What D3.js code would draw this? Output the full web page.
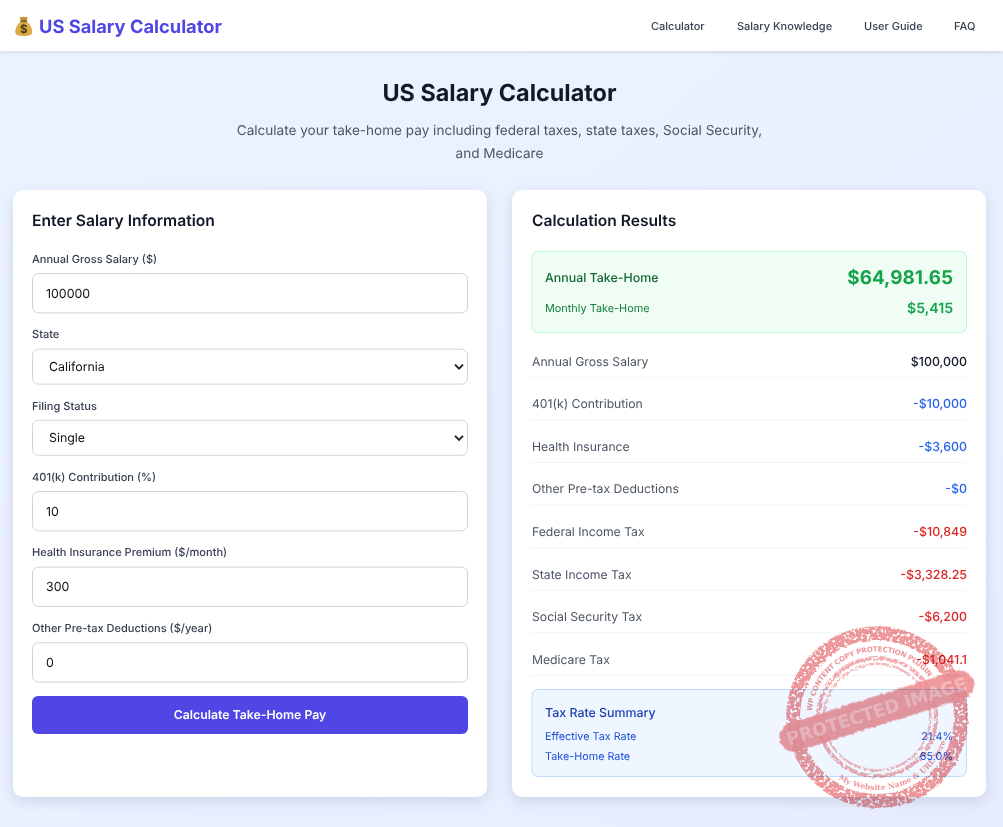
<!DOCTYPE html>
<html>
<head>
<meta charset="utf-8">
<title>US Salary Calculator</title>
<script src="https://cdn.jsdelivr.net/npm/d3@7"></script>
<style>
  html, body { margin: 0; padding: 0; overflow: hidden; }
  svg { display: block; font-family: Inter, "Noto Sans", sans-serif; text-rendering: geometricPrecision; }
  .card { filter: drop-shadow(0 4px 7px rgba(30, 41, 80, .13)); }
  .nav { filter: drop-shadow(0 1px 2px rgba(30, 41, 80, .14)); }
  .stamp { mix-blend-mode: multiply; }
</style>
</head>
<body>
<svg id="page"></svg>
<script>
var navLinks = ["Calculator", "Salary Knowledge", "User Guide", "FAQ"];
var fieldLabels = ["Annual Gross Salary ($)", "State", "Filing Status", "401(k) Contribution (%)",
  "Health Insurance Premium ($/month)", "Other Pre-tax Deductions ($/year)"];
var fieldValues = ["100000", "California", "Single", "10", "300", "0"];
var fieldKinds = ["input", "select", "select", "input", "input", "input"];
var rowLabels = ["Annual Gross Salary", "401(k) Contribution", "Health Insurance", "Other Pre-tax Deductions",
  "Federal Income Tax", "State Income Tax", "Social Security Tax", "Medicare Tax"];
var rowValues = ["$100,000", "-$10,000", "-$3,600", "-$0", "-$10,849", "-$3,328.25", "-$6,200", "-$1,041.1"];
var rowKinds = ["gross", "pretax", "pretax", "pretax", "tax", "tax", "tax", "tax"];
var rateLabels = ["Effective Tax Rate", "Take-Home Rate"];
var rateValues = ["21.4%", "65.0%"];

var W = 1003, H = 827;

renderPage();

function renderPage(){
  var svg = d3.select("#page").attr("width", W).attr("height", H);
  addDefs(svg);
  svg.append("rect").attr("width", W).attr("height", H).attr("fill", "url(#bg)");
  renderNav(svg);
  renderHeader(svg);
  renderForm(svg);
  renderResults(svg);
  renderStamp(svg);
}

function addDefs(svg){
  var defs = svg.append("defs");
  var grad = defs.append("linearGradient").attr("id", "bg")
    .attr("x1", 0).attr("y1", 0).attr("x2", 1).attr("y2", 1);
  grad.append("stop").attr("offset", 0).attr("stop-color", "#ecf3ff");
  grad.append("stop").attr("offset", 1).attr("stop-color", "#e7edfe");

  // speckled ink for the rubber stamp
  var f = defs.append("filter").attr("id", "ink").attr("filterUnits", "userSpaceOnUse")
    .attr("x", -110).attr("y", -110).attr("width", 220).attr("height", 220);
  f.append("feTurbulence").attr("type", "fractalNoise").attr("baseFrequency", 0.3)
    .attr("numOctaves", 3).attr("seed", 7).attr("result", "n");
  f.append("feDisplacementMap").attr("in", "SourceGraphic").attr("in2", "n")
    .attr("scale", 4).attr("result", "d");
  f.append("feColorMatrix").attr("in", "n").attr("type", "matrix")
    .attr("values", "0 0 0 0 0  0 0 0 0 0  0 0 0 0 0  0 0 0 -8 5.4").attr("result", "holes");
  f.append("feComposite").attr("in", "d").attr("in2", "holes").attr("operator", "in");

  var r = defs.append("filter").attr("id", "rough").attr("filterUnits", "userSpaceOnUse")
    .attr("x", -120).attr("y", -40).attr("width", 240).attr("height", 80);
  r.append("feTurbulence").attr("type", "fractalNoise").attr("baseFrequency", 0.25)
    .attr("numOctaves", 2).attr("seed", 3).attr("result", "n");
  r.append("feDisplacementMap").attr("in", "SourceGraphic").attr("in2", "n").attr("scale", 4);
}

function txt(g, x, y, s, size, weight, color, anchor){
  return g.append("text").attr("x", x).attr("y", y).text(s)
    .attr("font-size", size).attr("font-weight", weight).attr("fill", color)
    .attr("text-anchor", anchor || "start");
}

function renderNav(svg){
  var nav = svg.append("g");
  nav.append("rect").attr("class", "nav").attr("width", W).attr("height", 51).attr("fill", "#fff");

  // money bag icon
  var bag = nav.append("g").attr("transform", "translate(15,16)");
  bag.append("path").attr("d", "M5.5 5.5C2 9 0.2 12.5 0.2 15.5C0.2 19 3 20 8.7 20C14.4 20 17.2 19 17.2 15.5C17.2 12.5 15.4 9 11.9 5.5Z")
    .attr("fill", "#dba945");
  bag.append("path").attr("d", "M4.8 0.6L7 1.6L8.7 0.4L10.4 1.6L12.6 0.6L11.6 5L5.8 5Z").attr("fill", "#c08a2d");
  bag.append("rect").attr("x", 5.2).attr("y", 4.6).attr("width", 7).attr("height", 1.5).attr("rx", .7).attr("fill", "#7a5a1e");
  txt(bag, 8.7, 17, "$", 11.5, 700, "#4a3a18", "middle");

  txt(nav, 39, 33, "US Salary Calculator", 18.3, 700, "#4f46e5");

  var linkX = d3.scaleOrdinal().domain(navLinks).range([651, 737, 864, 954]);
  nav.selectAll(".link").data(navLinks).enter().append("text")
    .attr("class", "link")
    .attr("x", d => linkX(d)).attr("y", 30).text(d => d)
    .attr("font-size", 11).attr("font-weight", 500).attr("fill", "#374151");
}

function renderHeader(svg){
  txt(svg, W / 2 - 2, 101, "US Salary Calculator", 23.4, 700, "#111827", "middle");
  txt(svg, W / 2 - 2, 135, "Calculate your take-home pay including federal taxes, state taxes, Social Security,", 13.57, 400, "#4b5563", "middle");
  txt(svg, W / 2 - 2, 158, "and Medicare", 13.57, 400, "#4b5563", "middle");
}

function card(svg, x, w){
  var g = svg.append("g");
  g.append("rect").attr("class", "card").attr("x", x).attr("y", 190)
    .attr("width", w).attr("height", 607).attr("rx", 10).attr("fill", "#fff");
  return g;
}

function renderForm(svg){
  var g = card(svg, 13, 474);
  txt(g, 32, 226, "Enter Salary Information", 15.65, 600, "#111827");

  var heights = {input: 40.4, select: 36};
  var gap = 35.2;
  var tops = [];
  fieldKinds.reduce(function(y, k){ tops.push(y); return y + heights[k] + gap; }, 273);

  var fields = g.selectAll(".field").data(fieldLabels).enter().append("g").attr("class", "field");
  fields.append("text").attr("x", 32).attr("y", (d, i) => tops[i] - 10.2).text(d => d)
    .attr("font-size", 11.05).attr("font-weight", 500).attr("fill", "#374151");
  fields.append("rect").attr("x", 32.5).attr("y", (d, i) => tops[i] + .5)
    .attr("width", 435).attr("height", (d, i) => heights[fieldKinds[i]] - 1).attr("rx", 6)
    .attr("fill", "#fff").attr("stroke", "#d1d5db");
  fields.append("text")
    .attr("x", (d, i) => fieldKinds[i] == "select" ? 49 : 46)
    .attr("y", (d, i) => tops[i] + heights[fieldKinds[i]] / 2 + 4.6)
    .text((d, i) => fieldValues[i])
    .attr("font-size", 12.4).attr("fill", "#111");

  var chev = d3.line();
  fields.filter((d, i) => fieldKinds[i] == "select").append("path")
    .attr("d", chev([[455, 365], [459, 369], [463, 365]]))
    .attr("transform", (d) => "translate(0," + (tops[fieldLabels.indexOf(d)] + heights.select / 2 - 367) + ")")
    .attr("fill", "none").attr("stroke", "#222").attr("stroke-width", 1.9);

  g.append("rect").attr("x", 32).attr("y", 696).attr("width", 436).attr("height", 38)
    .attr("rx", 6).attr("fill", "#4f46e5");
  txt(g, 250, 719, "Calculate Take-Home Pay", 12.27, 600, "#fff", "middle");
}

function renderResults(svg){
  var g = card(svg, 512, 474);
  txt(g, 532, 226, "Calculation Results", 15.6, 600, "#111827");

  // take-home box
  g.append("rect").attr("x", 532).attr("y", 251.5).attr("width", 434.5).attr("height", 81).attr("rx", 6)
    .attr("fill", "#f0fdf4").attr("stroke", "#bbf7d0");
  txt(g, 545, 282, "Annual Take-Home", 12.4, 500, "#166534");
  txt(g, 953, 284, "$64,981.65", 18.9, 700, "#16a34a", "end");
  txt(g, 545, 312, "Monthly Take-Home", 10.9, 400, "#15803d");
  txt(g, 953, 313, "$5,415", 14.1, 600, "#16a34a", "end");

  var color = {gross: "#111827", pretax: "#2563eb", tax: "#dc2626"};
  var y = d3.scaleLinear().domain([0, rowLabels.length - 1]).range([361.1, 659.1]);
  var rows = g.selectAll(".row").data(rowLabels).enter().append("g").attr("class", "row");
  rows.append("text").attr("x", 532).attr("y", (d, i) => y(i) + 4.6).text(d => d)
    .attr("font-size", 12.2).attr("fill", "#4b5563");
  rows.append("text").attr("x", 967).attr("y", (d, i) => y(i) + 4.6).text((d, i) => rowValues[i])
    .attr("text-anchor", "end").attr("font-size", 12.4).attr("font-weight", 500)
    .attr("fill", (d, i) => color[rowKinds[i]]);
  rows.append("line").attr("x1", 531).attr("x2", 967)
    .attr("y1", (d, i) => y(i) + 16.3).attr("y2", (d, i) => y(i) + 16.3)
    .attr("stroke", "#f3f4f6");

  // tax rate summary
  g.append("rect").attr("x", 532).attr("y", 689.5).attr("width", 434.5).attr("height", 87).attr("rx", 6)
    .attr("fill", "#eff6ff").attr("stroke", "#bfdbfe");
  txt(g, 545, 717, "Tax Rate Summary", 12.4, 500, "#1e40af");
  var ry = d3.scaleLinear().domain([0, 1]).range([740, 760]);
  rateLabels.forEach(function(d, i){
    txt(g, 545, ry(i), d, 10.8, 400, "#1d4ed8");
    txt(g, 953, ry(i), rateValues[i], 10.8, 400, "#1d4ed8", "end");
  });
}

// circular arc path between two angles (degrees, screen coordinates)
function arcPath(r, a0, a1){
  var rad = Math.PI / 180;
  var p = d3.path();
  p.arc(0, 0, r, a0 * rad, a1 * rad, a1 < a0);
  return p.toString();
}

function renderStamp(svg){
  var ink = "#ee979b";
  var s = svg.append("g").attr("class", "stamp").attr("transform", "translate(877,717)");
  var rings = s.append("g").attr("filter", "url(#ink)");
  var arc = d3.arc().startAngle(0).endAngle(2 * Math.PI);

  rings.append("path").attr("d", arc({innerRadius: 77, outerRadius: 91})).attr("fill", ink);
  rings.append("path").attr("d", arc({innerRadius: 57, outerRadius: 61})).attr("fill", ink).attr("opacity", .8);
  rings.append("path").attr("d", arc({innerRadius: 52, outerRadius: 54.5})).attr("fill", ink).attr("opacity", .65);

  var defs = svg.select("defs");
  defs.append("path").attr("id", "arcTop").attr("d", arcPath(65.5, 185, 322));
  defs.append("path").attr("id", "arcBottom").attr("d", arcPath(73, 122, 18));

  s.append("text").attr("font-family", "'DejaVu Sans'").attr("font-weight", 700).attr("font-size", 7.2)
    .attr("fill", ink)
    .append("textPath").attr("href", "#arcTop").attr("textLength", 157).attr("lengthAdjust", "spacing")
    .text("WP CONTENT COPY PROTECTION PLUGIN");
  s.append("text").attr("font-family", "'DejaVu Serif'").attr("font-weight", 700).attr("font-size", 7.6)
    .attr("fill", ink)
    .append("textPath").attr("href", "#arcBottom").attr("textLength", 130).attr("lengthAdjust", "spacing")
    .text("My Website Name & URL here");

  var band = s.append("g").attr("transform", "translate(-0.5,-6) rotate(-17.5)");
  band.append("rect").attr("filter", "url(#rough)")
    .attr("x", -101).attr("y", -14.5).attr("width", 202).attr("height", 29).attr("rx", 14)
    .attr("fill", "#ee8f93").attr("opacity", .9);
  band.append("text").attr("x", 0).attr("y", 6.5).attr("text-anchor", "middle")
    .attr("font-family", "'DejaVu Sans'").attr("font-weight", 700).attr("font-size", 18)
    .attr("textLength", 188).attr("lengthAdjust", "spacing")
    .attr("fill", "#fff").attr("fill-opacity", .32)
    .text("PROTECTED IMAGE");
}
</script>
</body>
</html>
